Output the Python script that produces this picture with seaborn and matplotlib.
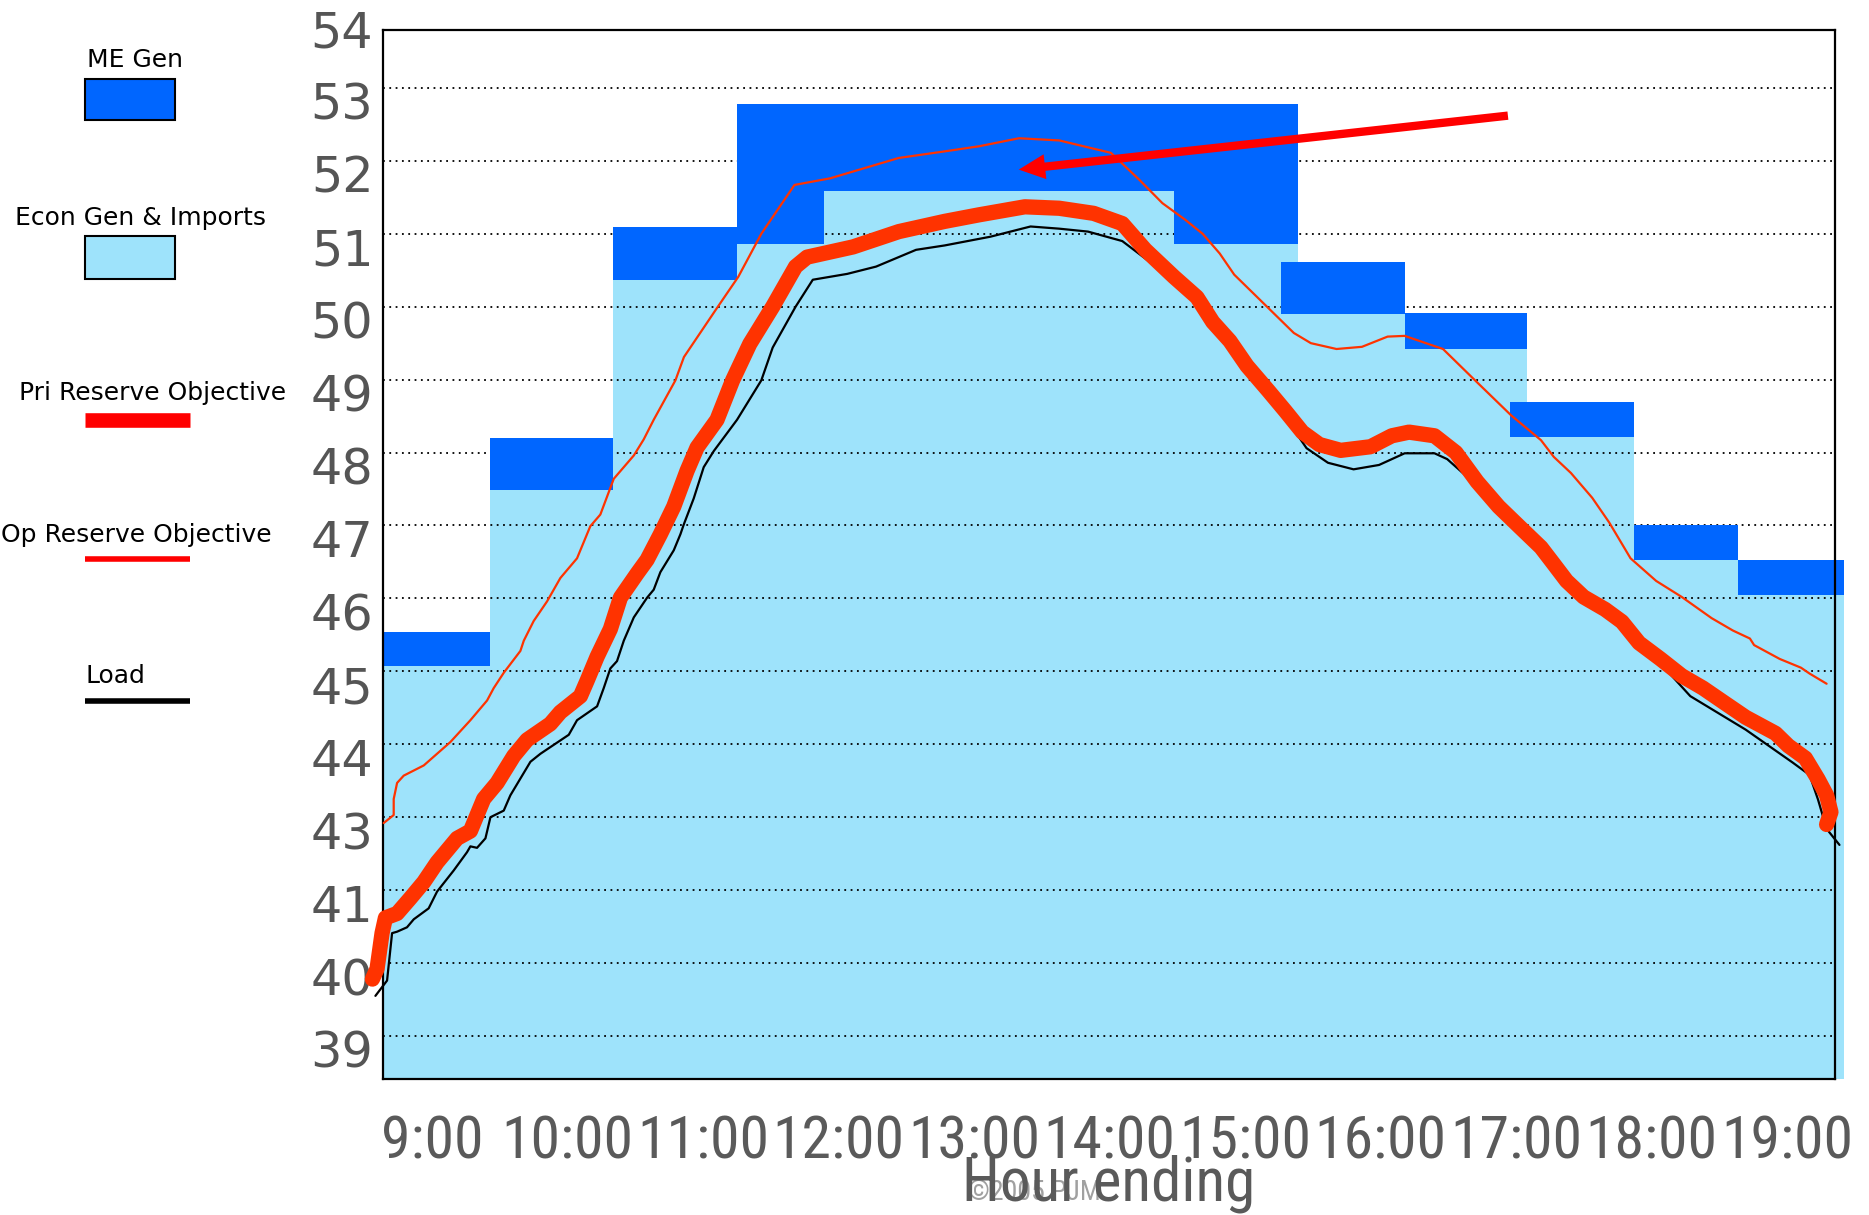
import numpy as np
import pandas as pd
import matplotlib
matplotlib.use("Agg")
import matplotlib.pyplot as plt
import seaborn as sns
from matplotlib import font_manager as fm
from matplotlib.patches import Rectangle
from matplotlib.lines import Line2D
from matplotlib.transforms import ScaledTranslation

# ---------------- data ----------------
hour_ticks = [9, 10, 11, 12, 13, 14, 15, 16, 17, 18, 19]
hour_labels = ["9:00", "10:00", "11:00", "12:00", "13:00", "14:00",
               "15:00", "16:00", "17:00", "18:00", "19:00"]
y_ticks = [40, 41, 42, 43, 44, 45, 46, 47, 48, 49, 50, 51, 52, 53, 54]
y_labels = ["39", "40", "41", "43", "44", "45", "46", "47", "48", "49",
            "50", "51", "52", "53", "54"]

block_start = [8.638, 9.426, 10.336, 11.251, 11.893, 14.476, 15.266, 16.178, 16.956, 17.867, 18.641]
block_end = [9.426, 10.336, 11.251, 11.893, 14.476, 15.391, 16.178, 17.081, 17.867, 18.641, 19.424]
econ_top = [45.07, 47.48, 50.37, 50.86, 51.59, 50.86, 49.90, 49.42, 48.21, 46.52, 46.04]
me_top = [45.54, 48.20, 51.09, 52.78, 52.78, 52.78, 50.61, 49.91, 48.70, 47.01, 46.53]

pri_h = [8.56, 8.594, 8.631, 8.656, 8.742, 8.84, 8.939, 9.037, 9.185, 9.283, 9.332, 9.381,
         9.48, 9.603, 9.701, 9.873, 9.947, 10.095, 10.144, 10.218, 10.316, 10.39, 10.513,
         10.587, 10.685, 10.784, 10.882, 10.956, 11.103, 11.218, 11.345, 11.514, 11.683,
         11.768, 12.107, 12.445, 12.783, 13.037, 13.375, 13.629, 13.883, 14.094, 14.264,
         14.475, 14.645, 14.762, 14.888, 15.014, 15.171, 15.297, 15.423, 15.549, 15.706,
         15.926, 16.083, 16.21, 16.398, 16.556, 16.713, 16.871, 17.027, 17.184, 17.279,
         17.373, 17.499, 17.657, 17.782, 17.908, 18.066, 18.223, 18.38, 18.537, 18.695,
         18.915, 19.009, 19.135, 19.229, 19.292, 19.324, 19.292]
pri_mw = [40.78, 40.92, 41.41, 41.62, 41.68, 41.89, 42.11, 42.38, 42.71, 42.81, 43.03, 43.25,
          43.47, 43.84, 44.06, 44.28, 44.44, 44.66, 44.87, 45.20, 45.58, 46.01, 46.34,
          46.53, 46.88, 47.26, 47.75, 48.07, 48.45, 48.99, 49.49, 50.00, 50.55,
          50.68, 50.82, 51.03, 51.17, 51.26, 51.37, 51.35, 51.28, 51.14, 50.78,
          50.41, 50.13, 49.79, 49.53, 49.19, 48.85, 48.57, 48.28, 48.11, 48.03,
          48.08, 48.23, 48.28, 48.23, 48.00, 47.60, 47.26, 46.98, 46.70, 46.47,
          46.24, 46.02, 45.85, 45.68, 45.39, 45.17, 44.94, 44.77, 44.57, 44.37,
          44.15, 43.98, 43.81, 43.52, 43.30, 43.07, 42.90]

op_h = [8.643, 8.717, 8.717, 8.742, 8.791, 8.939, 9.037, 9.135, 9.283, 9.406, 9.455, 9.529,
        9.652, 9.677, 9.75, 9.849, 9.947, 10.07, 10.168, 10.242, 10.341, 10.489, 10.562,
        10.636, 10.796, 10.859, 11.091, 11.26, 11.43, 11.675, 11.937, 12.445, 12.783,
        13.037, 13.332, 13.629, 14.01, 14.22, 14.39, 14.56, 14.687, 14.813, 14.92, 15.14,
        15.36, 15.486, 15.675, 15.863, 16.052, 16.178, 16.461, 16.681, 16.964, 17.184,
        17.279, 17.405, 17.562, 17.688, 17.845, 18.034, 18.223, 18.443, 18.60, 18.726,
        18.757, 18.946, 19.103, 19.166, 19.292]
op_mw = [42.92, 43.03, 43.25, 43.47, 43.57, 43.71, 43.87, 44.03, 44.33, 44.60, 44.77, 44.98,
         45.28, 45.42, 45.69, 45.96, 46.28, 46.55, 46.99, 47.15, 47.64, 47.96, 48.18,
         48.45, 48.99, 49.31, 49.95, 50.41, 51.00, 51.67, 51.76, 52.04, 52.13,
         52.20, 52.31, 52.28, 52.11, 51.74, 51.42, 51.19, 51.00, 50.73, 50.44, 50.04,
         49.64, 49.50, 49.42, 49.45, 49.59, 49.60, 49.42, 49.02, 48.51, 48.17,
         47.94, 47.72, 47.38, 47.04, 46.55, 46.24, 46.02, 45.73, 45.56, 45.45,
         45.36, 45.17, 45.05, 44.97, 44.83]

load_h = [8.582, 8.668, 8.705, 8.742, 8.815, 8.865, 8.975, 9.037, 9.160, 9.258, 9.283, 9.332,
          9.394, 9.431, 9.529, 9.578, 9.726, 9.80, 10.009, 10.07, 10.218, 10.267, 10.316,
          10.365, 10.415, 10.489, 10.587, 10.636, 10.685, 10.784, 10.833, 10.857, 10.931,
          11.005, 11.079, 11.251, 11.43, 11.514, 11.683, 11.81, 12.064, 12.277, 12.572,
          12.783, 13.121, 13.417, 13.629, 13.841, 14.094, 14.47, 14.81, 15.17, 15.454,
          15.612, 15.801, 15.989, 16.178, 16.398, 16.492, 16.71, 17.03, 17.28, 17.499,
          17.66, 17.91, 18.07, 18.286, 18.695, 19.041, 19.166, 19.229, 19.292, 19.387]
load_mw = [40.55, 40.76, 41.41, 41.43, 41.49, 41.60, 41.75, 41.98, 42.27, 42.52, 42.60, 42.58,
           42.71, 43.00, 43.09, 43.30, 43.76, 43.87, 44.13, 44.33, 44.52, 44.77, 45.04,
           45.14, 45.42, 45.74, 46.01, 46.12, 46.36, 46.66, 46.88, 47.01, 47.37,
           47.80, 48.02, 48.45, 48.99, 49.44, 50.00, 50.37, 50.45, 50.55, 50.78,
           50.84, 50.96, 51.10, 51.07, 51.03, 50.90, 50.37, 49.75, 48.83, 48.06,
           47.86, 47.77, 47.83, 47.99, 47.99, 47.91, 47.55, 46.92, 46.42, 45.95,
           45.78, 45.33, 45.10, 44.66, 44.20, 43.75, 43.58, 43.24, 42.84, 42.62]

arrow_tail = (16.94, 52.62)
arrow_head = (13.33, 51.88)

# ---------------- style ----------------
sns.set_theme(style="white")
plt.rcParams["font.family"] = ["DejaVu Sans"]


def pick_font(cands):
    for c in cands:
        try:
            fm.findfont(fm.FontProperties(family=c), fallback_to_default=False)
            return c
        except Exception:
            continue
    return None


narrow = pick_font(["Liberation Sans Narrow", "Roboto Condensed", "Open Sans Condensed"])
if narrow is None:
    narrow = "DejaVu Sans"
    xt_size, xl_size, cp_size = 32, 33, 15
else:
    xt_size, xl_size, cp_size = 43, 44, 20

ME = "#0066ff"
ECON = "#9ee3fb"
PRI = "#ff3300"
GRAY = "#5a5a5a"

FLOOR = 39.41
FRAME_TOP = 53.8

fig = plt.figure(figsize=(18.69, 12.15), dpi=100)
ax = fig.add_axes([383 / 1869, 1 - 1079 / 1215, 1452 / 1869, 1064 / 1215])

widths = np.array(block_end) - np.array(block_start)
econ = np.array(econ_top)
me = np.array(me_top)
ax.bar(block_start, econ - FLOOR, width=widths, bottom=FLOOR, align="edge",
       color=ECON, linewidth=0, zorder=1, clip_on=False)
for g in range(40, 54):
    ax.axhline(g, color="black", linestyle=(0, (1, 2.5)), linewidth=1.3, zorder=1.5)
ax.bar(block_start, me - econ, width=widths, bottom=econ, align="edge",
       color=ME, linewidth=0, zorder=2, clip_on=False)

sns.lineplot(data=pd.DataFrame({"hour": op_h, "mw": op_mw}), x="hour", y="mw",
             sort=False, estimator=None, color=PRI, linewidth=1.6, ax=ax,
             zorder=3, clip_on=False, legend=False)
sns.lineplot(data=pd.DataFrame({"hour": load_h, "mw": load_mw}), x="hour", y="mw",
             sort=False, estimator=None, color="black", linewidth=1.6, ax=ax,
             zorder=3.5, clip_on=False, legend=False)
sns.lineplot(data=pd.DataFrame({"hour": pri_h, "mw": pri_mw}), x="hour", y="mw",
             sort=False, estimator=None, color=PRI, linewidth=11, ax=ax,
             zorder=4, clip_on=False, legend=False,
             solid_capstyle="round", solid_joinstyle="round")

ax.annotate("", xy=arrow_head, xytext=arrow_tail,
            arrowprops=dict(arrowstyle="simple,head_length=0.95,head_width=0.9,tail_width=0.3",
                            fc="#ff0000", ec="none", mutation_scale=20,
                            shrinkA=0, shrinkB=0), zorder=5)

ax.set_xlim(8.638, 19.354)
ax.set_ylim(FLOOR, 54.0)

for s in ["left", "right", "bottom", "top"]:
    ax.spines[s].set_visible(True)
    ax.spines[s].set_color("black")
    ax.spines[s].set_linewidth(1.6)
ax.spines["top"].set_position(("data", FRAME_TOP))
ax.spines["left"].set_bounds(FLOOR, FRAME_TOP)
ax.spines["right"].set_bounds(FLOOR, FRAME_TOP)
ax.grid(False)

ax.set_xticks(hour_ticks)
ax.set_xticklabels(hour_labels, fontsize=xt_size, family=narrow, color=GRAY)
ax.tick_params(axis="x", length=0, pad=25)
ax.set_yticks(y_ticks)
ax.set_yticklabels(y_labels, fontsize=35.5, color="#555555")
ax.tick_params(axis="y", length=0, pad=7)
off = ScaledTranslation(0, -13 / 100, fig.dpi_scale_trans)
for lab in ax.get_yticklabels():
    lab.set_transform(lab.get_transform() + off)

ax.set_ylabel("")
ax.set_xlabel("Hour ending", fontsize=xl_size, family=narrow, color=GRAY, va="center")
ax.xaxis.set_label_coords(0.5, -(1184 - 1079) / 1064)

fig.text(1034 / 1869, 1 - 1193 / 1215, "\u00a92005 PJM", fontsize=cp_size, family=narrow,
         color="#a0a0a0", ha="center", va="center", zorder=-1)


# ---------------- legend (left column) ----------------
def fx(px):
    return px / 1869


def fy(py):
    return 1 - py / 1215


leg_font = 18
fig.text(fx(134.7), fy(59.6), "ME Gen", ha="center", va="center", fontsize=leg_font, color="black")
fig.add_artist(Rectangle((fx(84.6), fy(120.4)), fx(175.2) - fx(84.6), (120.4 - 78.7) / 1215,
                         transform=fig.transFigure, fc=ME, ec="black", lw=1.5))
fig.text(fx(140.7), fy(218), "Econ Gen & Imports", ha="center", va="center", fontsize=leg_font, color="black")
fig.add_artist(Rectangle((fx(84.6), fy(279)), fx(175.2) - fx(84.6), (279 - 236) / 1215,
                         transform=fig.transFigure, fc=ECON, ec="black", lw=1.5))
fig.text(fx(152.6), fy(393.4), "Pri Reserve Objective", ha="center", va="center", fontsize=leg_font, color="black")
fig.add_artist(Line2D([fx(84.6), fx(189.5)], [fy(419.6), fy(419.6)], transform=fig.transFigure,
                      color="#ff0000", lw=10.5, solid_capstyle="butt"))
fig.text(fx(136), fy(535), "Op Reserve Objective", ha="center", va="center", fontsize=leg_font, color="black")
fig.add_artist(Line2D([fx(84.6), fx(189.5)], [fy(559), fy(559)], transform=fig.transFigure,
                      color="#ff0000", lw=4, solid_capstyle="butt"))
fig.text(fx(115.6), fy(676), "Load", ha="center", va="center", fontsize=leg_font, color="black")
fig.add_artist(Line2D([fx(84.6), fx(189.5)], [fy(701), fy(701)], transform=fig.transFigure,
                      color="black", lw=4, solid_capstyle="butt"))

fig.savefig("out.png", dpi=100)
